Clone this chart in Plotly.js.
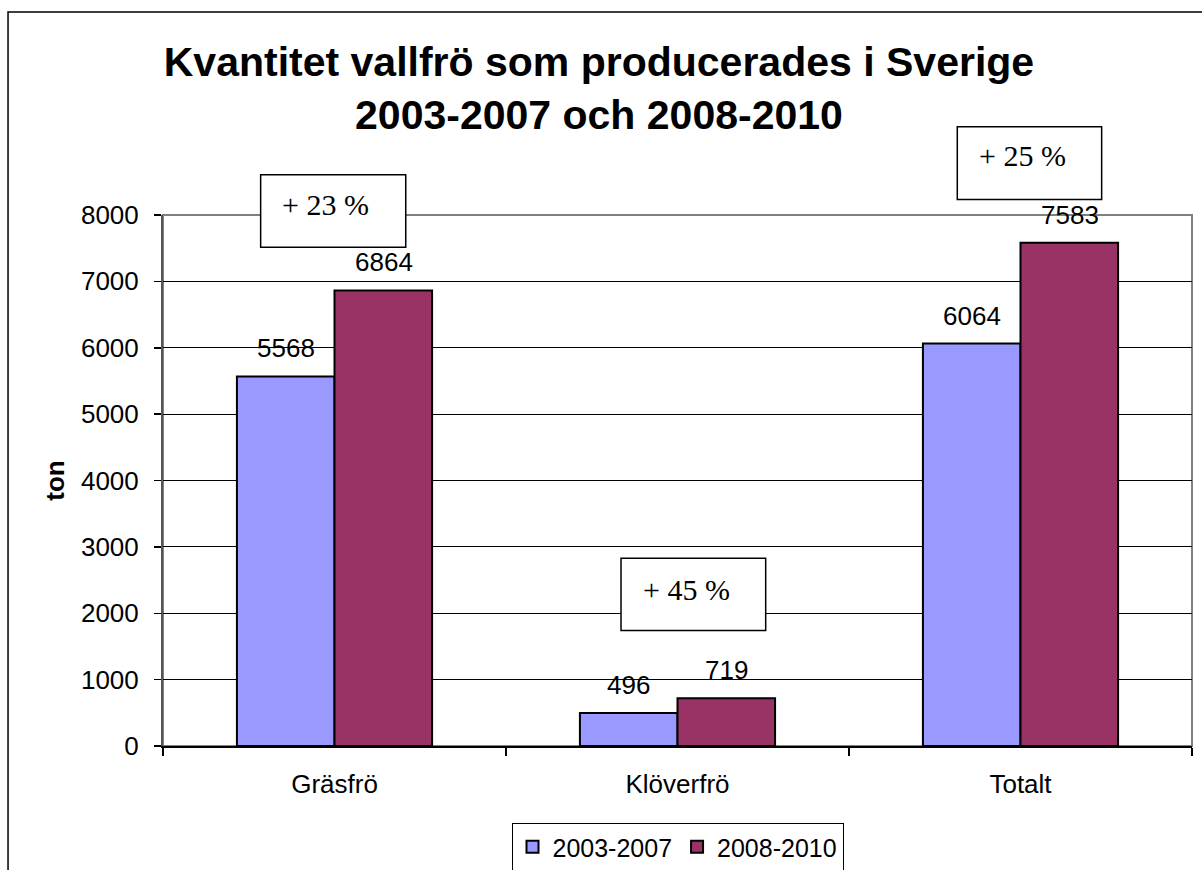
<!DOCTYPE html>
<html>
<head>
<meta charset="utf-8">
<script src="https://cdn.plot.ly/plotly-3.0.1.min.js"></script>
<style>
  html, body { margin: 0; padding: 0; background: #ffffff; }
  #chart { width: 1202px; height: 870px; }
</style>
</head>
<body>
<div id="chart"></div>
<script>
// ---- data ----
const categories = ['Gräsfrö', 'Klöverfrö', 'Totalt'];
const seriesNames = ['2003-2007', '2008-2010'];
const values2003_2007 = [5568, 496, 6064];
const values2008_2010 = [6864, 719, 7583];
const changeLabels = ['+ 23 %', '+ 45 %', '+ 25 %'];
const yTickValues = [0, 1000, 2000, 3000, 4000, 5000, 6000, 7000, 8000];
const titleText = 'Kvantitet vallfrö som producerades i Sverige<br>2003-2007 och 2008-2010';
const yAxisTitle = 'ton';

// ---- style ----
const SANS = 'Liberation Sans, Arial, sans-serif';
const SERIF = 'Liberation Serif, Times New Roman, serif';
const colors = ['#9999FF', '#993366'];

const traces = [
  {
    type: 'bar', name: seriesNames[0], x: categories, y: values2003_2007,
    marker: { color: colors[0], line: { color: '#000000', width: 2 } },
    hoverinfo: 'none'
  },
  {
    type: 'bar', name: seriesNames[1], x: categories, y: values2008_2010,
    marker: { color: colors[1], line: { color: '#000000', width: 2 } },
    hoverinfo: 'none'
  }
];

// value labels above bars, from the data arrays
const annotations = [];
[values2003_2007, values2008_2010].forEach(function (vals, si) {
  vals.forEach(function (v, ci) {
    annotations.push({
      x: categories[ci], y: v, xref: 'x', yref: 'y',
      text: String(v), showarrow: false,
      xshift: si === 0 ? -49 : 49, yshift: 28,
      yanchor: 'middle', xanchor: 'center',
      font: { family: SANS, size: 26, color: '#000000' }
    });
  });
});

// percent-change boxes (placed in paper coordinates)
const boxPos = [
  { x0: 0.0949, x1: 0.2359, y0: 0.9395, y1: 1.0756, tx: 0.1584, ty: 1.0197 },
  { x0: 0.4451, x1: 0.5857, y0: 0.2177, y1: 0.3538, tx: 0.5083, ty: 0.2942 },
  { x0: 0.7719, x1: 0.9122, y0: 1.0291, y1: 1.1664, tx: 0.8348, ty: 1.1118 }
];
const shapes = [
  // outer chart frame
  { type: 'rect', xref: 'paper', yref: 'paper', x0: -0.1506, x1: 1.6, y0: -1.0, y1: 1.3825,
    line: { color: '#000000', width: 1.5 }, fillcolor: 'rgba(0,0,0,0)', layer: 'below' },
  // plot area border
  { type: 'rect', xref: 'paper', yref: 'paper', x0: 0, x1: 1, y0: 0, y1: 1,
    line: { color: '#808080', width: 2 }, fillcolor: 'rgba(0,0,0,0)', layer: 'between' }
];
boxPos.forEach(function (b, i) {
  shapes.push({ type: 'rect', xref: 'paper', yref: 'paper', x0: b.x0, x1: b.x1, y0: b.y0, y1: b.y1,
    line: { color: '#000000', width: 1.5 }, fillcolor: '#ffffff', layer: 'above' });
  annotations.push({
    xref: 'paper', yref: 'paper', x: b.tx, y: b.ty, text: changeLabels[i], showarrow: false,
    xanchor: 'center', yanchor: 'middle',
    font: { family: SERIF, size: 30, color: '#000000' }
  });
});

const layout = {
  width: 1202, height: 870,
  paper_bgcolor: 'rgba(255,255,255,0)', plot_bgcolor: 'rgba(255,255,255,0)',
  margin: { l: 163, r: 10, t: 214.5, b: 123.5, pad: 0, autoexpand: false },
  font: { family: SANS, size: 25, color: '#000000' },
  title: {
    text: titleText, xref: 'container', yref: 'container', x: 0.4983, y: 0.9132,
    xanchor: 'center', yanchor: 'top',
    font: { family: SANS, size: 41, weight: 'bold', color: '#000000' }
  },
  barmode: 'group', bargap: 0.431, bargroupgap: 0,
  showlegend: true,
  legend: {
    orientation: 'h', xref: 'paper', yref: 'container',
    x: 0.5, xanchor: 'center', y: 0.054, yanchor: 'top',
    bordercolor: '#000000', borderwidth: 1, bgcolor: '#ffffff',
    font: { family: SANS, size: 25, color: '#000000' },
    itemwidth: 30, traceorder: 'normal'
  },
  xaxis: {
    type: 'category', showgrid: false, zeroline: false, automargin: false,
    showline: true, linecolor: '#000000', linewidth: 2,
    ticks: 'outside', tickson: 'boundaries', ticklen: 8, tickcolor: '#000000', tickwidth: 1.5,
    ticklabelstandoff: 14,
    tickfont: { family: SANS, size: 26, color: '#000000' }
  },
  yaxis: {
    range: [0, 8000], tickvals: yTickValues, ticktext: yTickValues.map(String),
    showgrid: true, gridcolor: '#000000', gridwidth: 1, zeroline: false, automargin: false,
    showline: true, linecolor: '#555555', linewidth: 2,
    ticks: 'outside', ticklen: 7, tickcolor: '#000000', tickwidth: 1.5,
    ticklabelstandoff: 10,
    tickfont: { family: SANS, size: 26, color: '#000000' },
    title: { text: yAxisTitle, standoff: 9, font: { family: SANS, size: 26, weight: 'bold', color: '#000000' } }
  },
  shapes: shapes,
  annotations: annotations
};

Plotly.newPlot('chart', traces, layout, { displayModeBar: false, staticPlot: true });
</script>
</body>
</html>
